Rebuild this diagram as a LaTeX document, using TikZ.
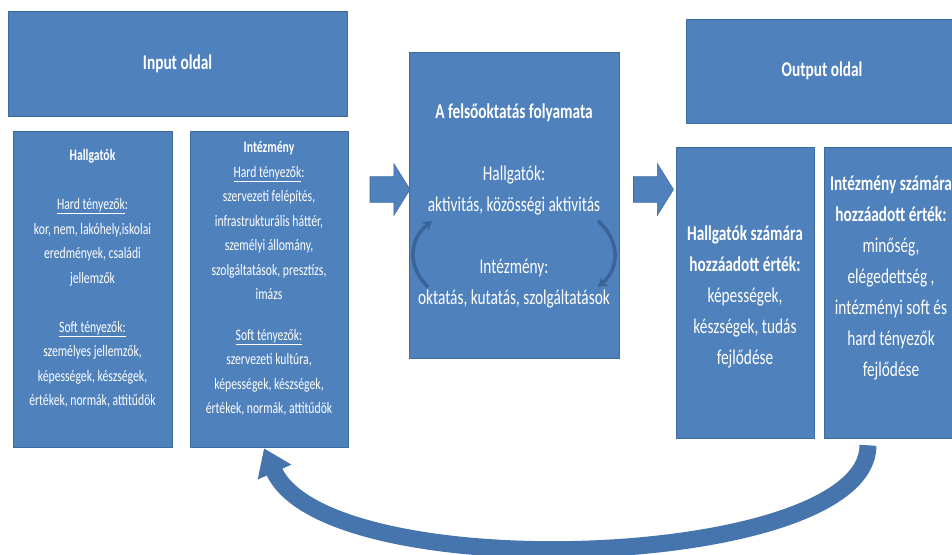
\documentclass[tikz,border=0pt]{standalone}
\usepackage{fontspec}
\setmainfont{Carlito}[FakeStretch=0.73]
\usetikzlibrary{shapes.arrows,arrows.meta}
\definecolor{dobozkek}{HTML}{4F81BD}
\definecolor{keret}{HTML}{3F6C9F}
\definecolor{nyilkek}{HTML}{4674AC}
\definecolor{sotetkek}{HTML}{3A6498}
\tikzset{
	doboz/.style={draw=keret, fill=dobozkek, line width=0.6pt, inner sep=0pt},
	kisszoveg/.style={text=white, align=center, inner sep=0pt, font=\fontsize{16}{24.5}\selectfont},
	nagyszoveg/.style={text=white, align=center, inner sep=0pt, font=\fontsize{21}{31}\selectfont},
	blokknyil/.style={single arrow, draw=keret, fill=dobozkek, line width=0.6pt, inner xsep=0pt, inner ysep=12.5pt,
		minimum height=40pt, single arrow head extend=13pt, single arrow tip angle=116},
	ivnyil/.style={sotetkek, line width=3.5pt, -{Stealth[length=9pt,width=11pt]}}
}
\begin{document}
\begin{tikzpicture}[x=1pt,y=-1pt]
	\useasboundingbox (0,0) rectangle (952,554);
	% input oldal
	\node[doboz, minimum width=339pt, minimum height=105pt] (inhead) at (177.5,63.5) {};
	\node[nagyszoveg, font=\fontsize{21}{31}\selectfont\bfseries] (intitle) at (inhead.center) {Input oldal};
	\node[doboz, minimum width=159pt, minimum height=316pt] (hallg) at (92.5,289) {};
	\node[kisszoveg] (hallgtxt) at ([yshift=10.5pt]hallg.center) {\textbf{Hallgatók}\\[24.5pt]
		\underline{Hard tényezők}:\\ kor, nem, lakóhely,iskolai\\ eredmények, családi\\ jellemzők\\[24.5pt]
		\underline{Soft tényezők:}\\ személyes jellemzők,\\ képességek, készségek,\\ értékek, normák, attitűdök};
	\node[doboz, minimum width=158pt, minimum height=316pt] (intez) at (269,289) {};
	\node[kisszoveg] (inteztxt) at ([yshift=10.5pt]intez.center) {\textbf{Intézmény}\\
		\underline{Hard tényezők}:\\ szervezeti felépítés,\\ infrastrukturális háttér,\\ személyi állomány,\\ szolgáltatások, presztízs,\\ imázs\\[16pt]
		\underline{Soft tényezők:}\\ szervezeti kultúra,\\ képességek, készségek,\\ értékek, normák, attitűdök};
	% folyamat
	\node[doboz, minimum width=210pt, minimum height=306pt] (folyam) at (514,205) {};
	\node[nagyszoveg] (folyamtxt) at ([yshift=-1pt]folyam.center) {\textbf{A felsőoktatás folyamata}\\[31pt]
		Hallgatók:\\ aktivitás, közösségi aktivitás\\[31pt]
		Intézmény:\\ oktatás, kutatás, szolgáltatások};
	\coordinate (bal1) at (428,287);
	\coordinate (bal2) at (432,221);
	\coordinate (jobb1) at (598,221);
	\coordinate (jobb2) at (598,287);
	\draw[ivnyil] (bal1) .. controls (408,268) and (408,240) .. (bal2);
	\draw[ivnyil] (jobb1) .. controls (620,240) and (620,268) .. (jobb2);
	% nyilak
	\node[blokknyil] (nyil1) at (386,189.5) {};
	\node[blokknyil] (nyil2) at (649.5,189.5) {};
	% output oldal
	\node[doboz, minimum width=272pt, minimum height=104pt] (outhead) at (822,71) {};
	\node[nagyszoveg, font=\fontsize{21}{31}\selectfont\bfseries] (outtitle) at (outhead.center) {Output oldal};
	\node[doboz, minimum width=138pt, minimum height=291pt] (hszam) at (745,292.5) {};
	\node[nagyszoveg] (hszamtxt) at ([yshift=-4.5pt]hszam.center) {\textbf{Hallgatók számára}\\ \textbf{hozzáadott érték:}\\
		képességek,\\ készségek, tudás\\ fejlődése};
	\node[doboz, minimum width=134pt, minimum height=291pt] (iszam) at (891,292.5) {};
	\node[nagyszoveg] (iszamtxt) at ([yshift=14pt]iszam.center) {\textbf{Intézmény számára}\\ \textbf{hozzáadott érték:}\\
		minőség,\\ elégedettség ,\\ intézményi soft és\\ hard tényezők\\ fejlődése};
	% visszacsatolas
	\coordinate (visszaki) at ([xshift=-23pt,yshift=-7pt]iszam.south);
	\coordinate (visszabe) at ([xshift=-5pt,yshift=-1pt]intez.south);
	\draw[nyilkek, line width=17pt, -{Triangle[length=26pt,width=35pt]}] (visszaki) .. controls +(0,125) and +(62,140) .. (visszabe);
\end{tikzpicture}
\end{document}
